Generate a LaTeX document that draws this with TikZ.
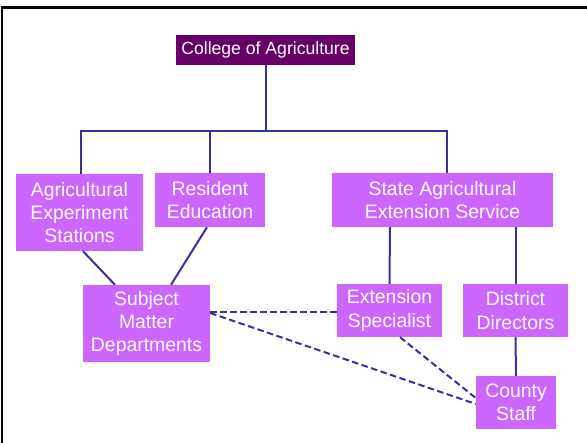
\documentclass[tikz,border=0pt]{standalone}
\usepackage{fontspec}
\setmainfont{Liberation Sans}
\definecolor{boxfill}{HTML}{CC66FF}
\definecolor{topfill}{HTML}{660066}
\definecolor{linkcol}{HTML}{333399}
\begin{document}
\begin{tikzpicture}[x=1pt,y=-1pt,
  orgbox/.style={draw=none,fill=boxfill,text=white,align=center,inner sep=0pt,
    font=\fontsize{19.4}{23.3}\selectfont},
  link/.style={draw=linkcol,line width=2pt},
  dlink/.style={draw=linkcol,line width=2pt,dash pattern=on 6.5pt off 3.5pt}]
\useasboundingbox (0,0) rectangle (587,443);
% frame
\draw[line width=2.6pt,black] (2,443) -- (2,7.5) -- (587,7.5);
% nodes
\node[orgbox,fill=topfill,minimum width=179pt,minimum height=30pt,font=\fontsize{17.6}{21}\selectfont] (col) at (265.5,50) {College of Agriculture};
\node[orgbox,minimum width=127pt,minimum height=77pt] (aes) at (79.5,212.5) {Agricultural\\Experiment\\Stations};
\node[orgbox,minimum width=110pt,minimum height=54pt] (res) at (210,200) {Resident\\Education};
\node[orgbox,minimum width=221pt,minimum height=54pt] (saes) at (442.5,200) {State Agricultural\\Extension Service};
\node[orgbox,minimum width=127pt,minimum height=77pt] (smd) at (146.5,323.5) {Subject\\Matter\\Departments};
\node[orgbox,minimum width=105pt,minimum height=53pt] (es) at (389.5,310.5) {Extension\\Specialist};
\node[orgbox,minimum width=105pt,minimum height=53pt] (dd) at (515.5,310.5) {District\\Directors};
\node[orgbox,minimum width=80pt,minimum height=53pt] (cs) at (516,402.5) {County\\Staff};
% tree
\coordinate (bus) at (265.5,131);
\draw[link] (col.south) -- (bus);
\draw[link] ([xshift=1.5pt]aes.north) -- ([xshift=1.5pt]aes.north |- bus) -- ([xshift=4.5pt]saes.north |- bus) -- ([xshift=4.5pt]saes.north);
\draw[link] (res.north) -- (res.north |- bus);
\draw[link] ([xshift=3.5pt]aes.south) -- ([xshift=-31.5pt]smd.north);
\draw[link] ([xshift=-3pt]res.south) -- ([xshift=24.5pt]smd.north);
\draw[link] ([xshift=-52.5pt]saes.south) -- (es.north);
\draw[link] (dd.north |- saes.south) -- (dd.north);
\draw[link] (dd.south) -- (cs.north);
% dashed
\draw[dlink] ([yshift=11.5pt]smd.east) -- ([yshift=-1.5pt]es.west);
\draw[dlink] ([yshift=10.5pt]smd.east) -- ([yshift=-1.5pt]cs.west);
\draw[dlink] ([xshift=10.5pt]es.south) -- ([yshift=4.5pt]cs.west);
\end{tikzpicture}
\end{document}
